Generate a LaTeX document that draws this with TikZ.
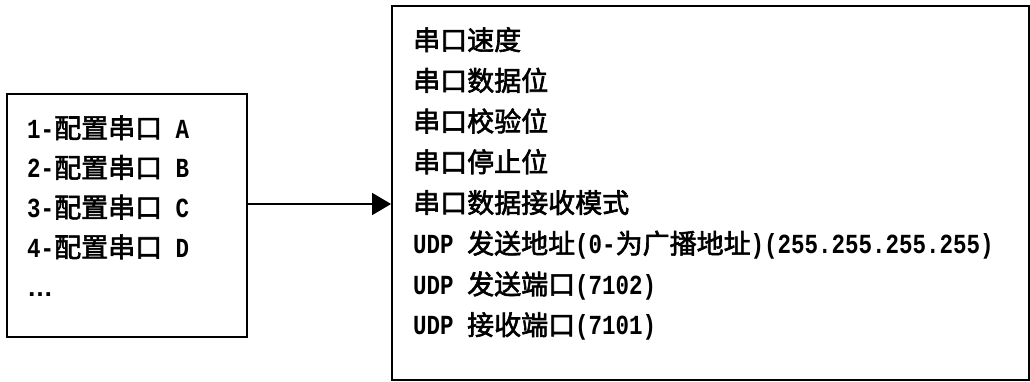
\documentclass[tikz,border=0pt]{standalone}
\usepackage{fontspec}
\usetikzlibrary{arrows.meta}
\newfontfamily\cjk{Noto Sans CJK SC}[FakeBold=2.2]
\newfontfamily\lat{Liberation Mono}[FakeStretch=0.815]
\newfontfamily\dotsfont{Liberation Sans}
\newcommand{\cj}[1]{{\fontsize{27}{27}\selectfont\cjk #1}}
\newcommand{\lt}[1]{{\fontsize{27.6}{27}\selectfont\lat\bfseries #1}}
\begin{document}
\begin{tikzpicture}[x=1pt,y=-1pt,
  box/.style={draw=black,line width=1.8pt,inner sep=0pt,fill=none},
  txt/.style={anchor=base west,inner sep=0pt},
  arr/.style={line width=1.5pt,-{Triangle[length=19pt,width=22pt]}}]
\useasboundingbox (0,0) rectangle (1030,381);
\fill[white] (0,0) rectangle (1030,381);
% boxes
\node[box,minimum width=240pt,minimum height=243pt] (L) at (127,215.5) {};
\node[box,minimum width=637pt,minimum height=374pt] (R) at (710.5,193) {};
% left texts
\node[txt] (l1) at (27,138.0) {\lt{1-}\cj{配置串口}\lt{\ A}};
\node[txt] (l2) at (27,177.7) {\lt{2-}\cj{配置串口}\lt{\ B}};
\node[txt] (l3) at (27,217.4) {\lt{3-}\cj{配置串口}\lt{\ C}};
\node[txt] (l4) at (27,257.1) {\lt{4-}\cj{配置串口}\lt{\ D}};
\node[txt] (l5) at (27,296.8) {\fontsize{26}{26}\selectfont\dotsfont\bfseries …};
% right texts
\node[txt] (r1) at (413,50.0) {\cj{串口速度}};
\node[txt] (r2) at (413,90.7) {\cj{串口数据位}};
\node[txt] (r3) at (413,131.4) {\cj{串口校验位}};
\node[txt] (r4) at (413,172.1) {\cj{串口停止位}};
\node[txt] (r5) at (413,212.8) {\cj{串口数据接收模式}};
\node[txt] (r6) at (413,253.5) {\lt{UDP\ }\cj{发送地址}\lt{(0-}\cj{为广播地址}\lt{)(255.255.255.255)}};
\node[txt] (r7) at (413,294.2) {\lt{UDP\ }\cj{发送端口}\lt{(7102)}};
\node[txt] (r8) at (413,334.9) {\lt{UDP\ }\cj{接收端口}\lt{(7101)}};
% connector
\coordinate (ay) at (0,204);
\draw[arr] (L.east |- ay) -- (R.west |- ay);
\end{tikzpicture}
\end{document}
